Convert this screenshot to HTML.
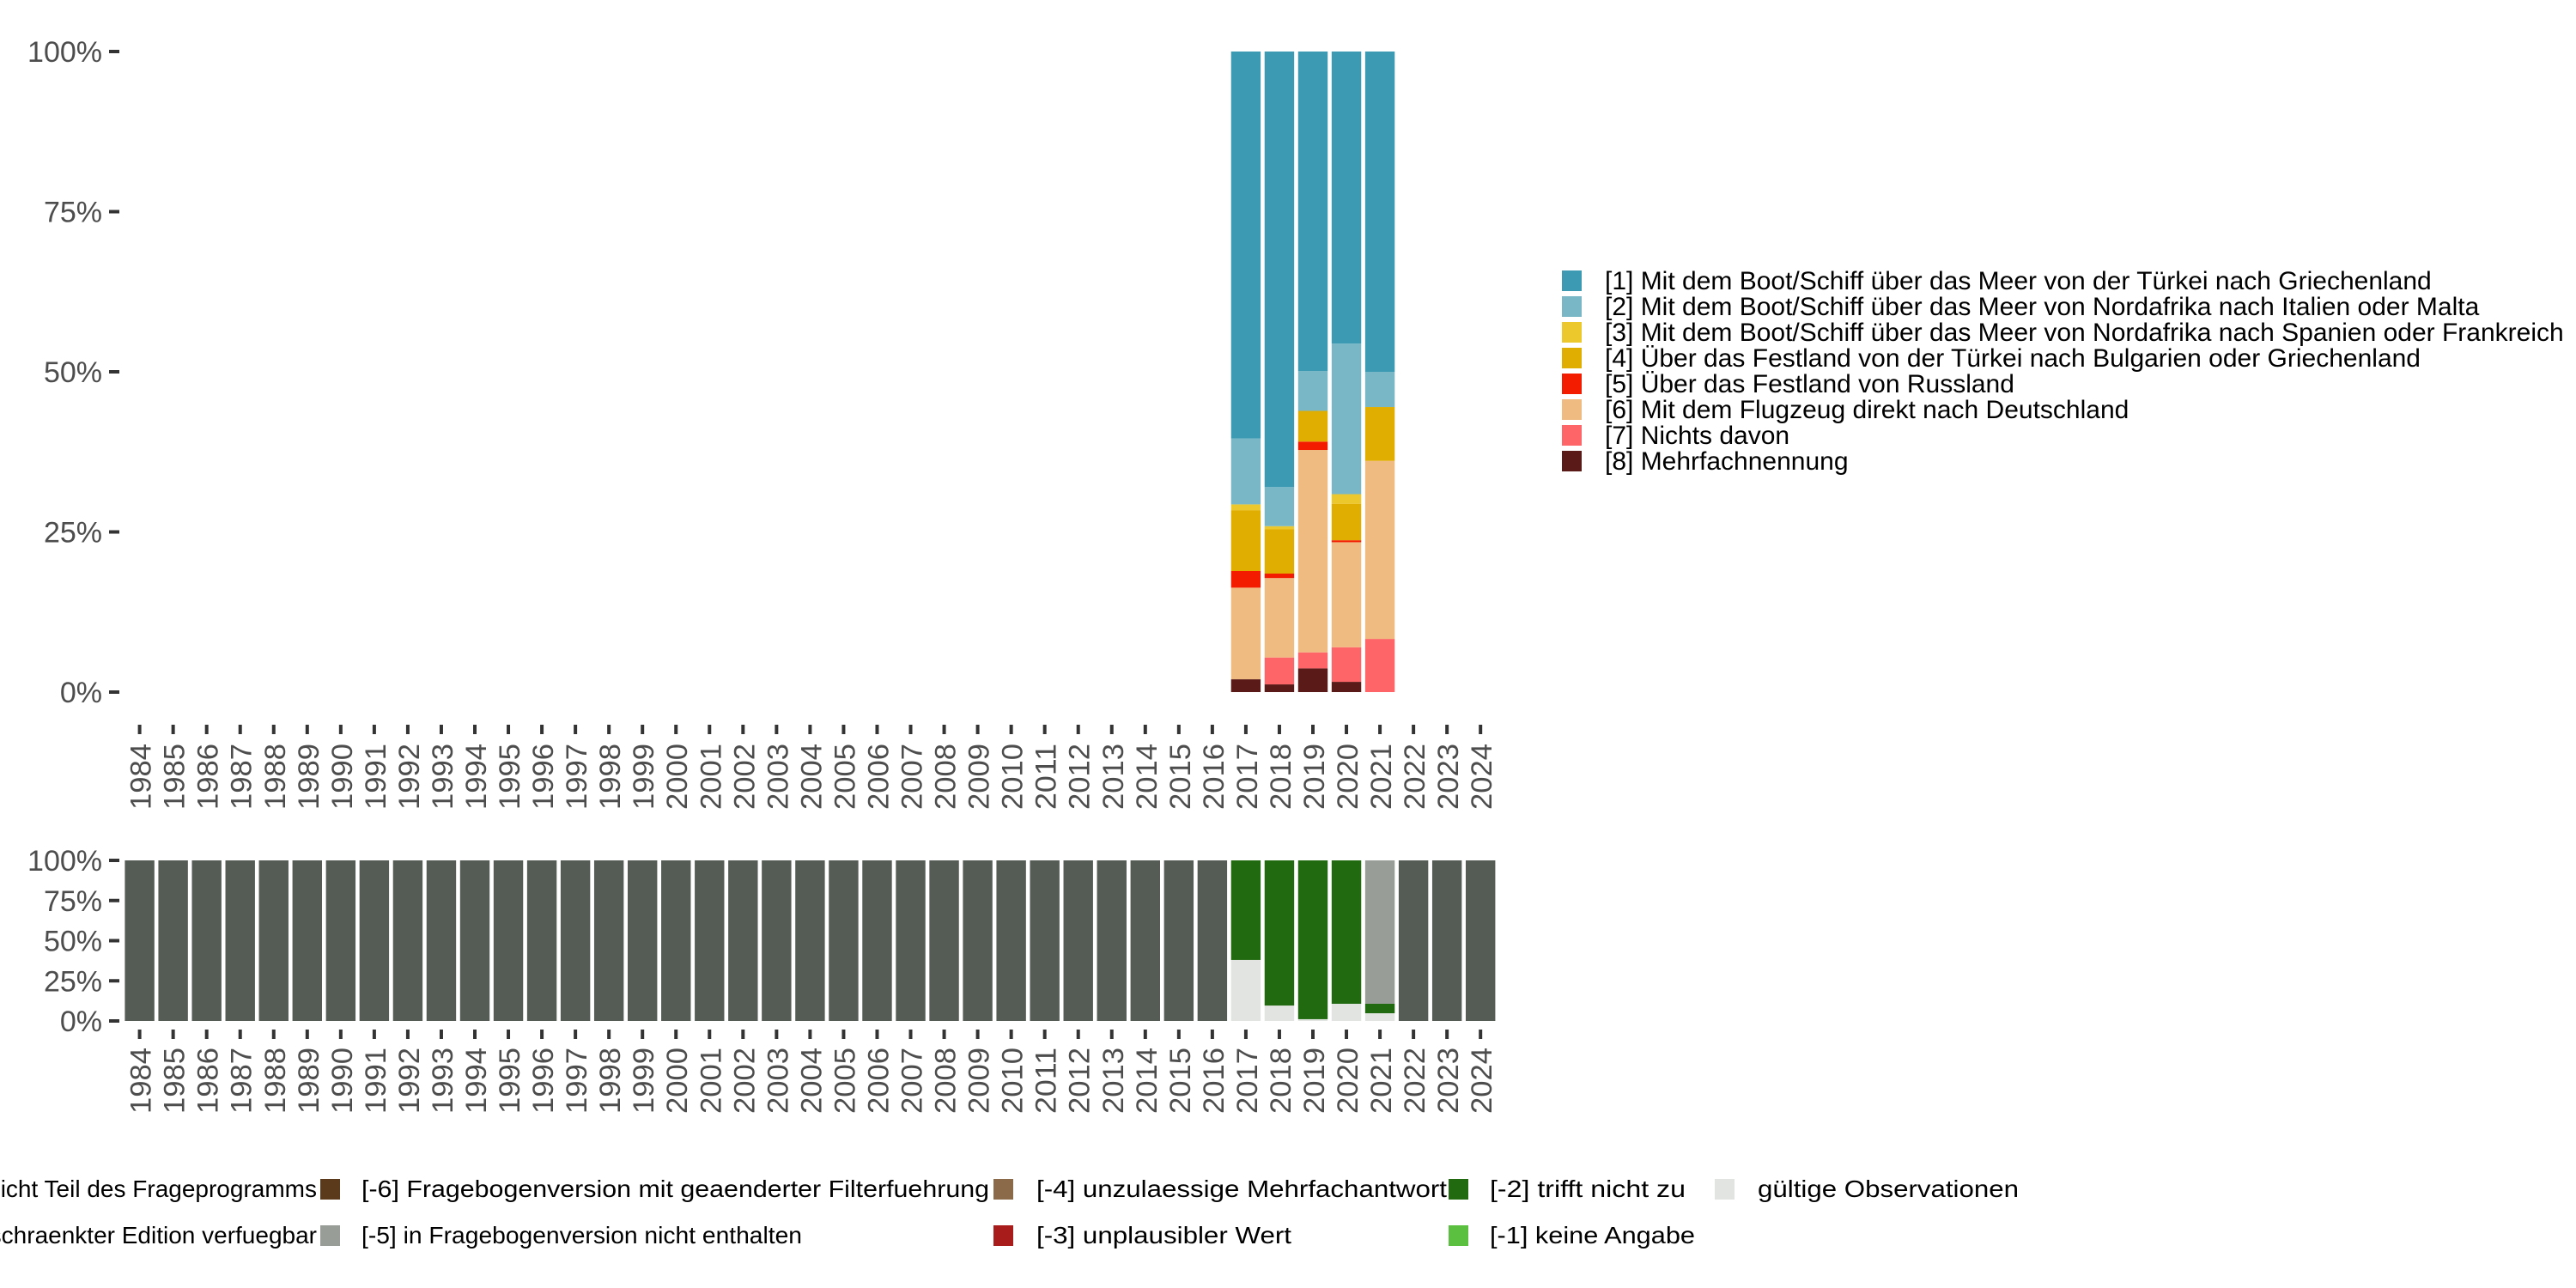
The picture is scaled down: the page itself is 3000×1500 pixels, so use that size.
<!DOCTYPE html>
<html><head><meta charset="utf-8"><style>
html,body{margin:0;padding:0;background:#fff;}
svg{display:block;font-family:"Liberation Sans","DejaVu Sans",sans-serif;}
</style></head><body>
<svg id="chart" width="3000" height="1500" viewBox="0 0 3000 1500" xmlns="http://www.w3.org/2000/svg">
<g id="topPanel"></g>
<g id="botPanel"></g>
<g id="leg"></g>
<g id="leg2"></g>
</svg>
<script>
const years = [];
for (let y = 1984; y <= 2024; y++) years.push(y);
const topYears = [2017, 2018, 2019, 2020, 2021];
// shares (%) per category, bottom to top order [8],[7],[6],[5],[4],[3],[2],[1]
const s8 = [2.0, 1.2, 3.7, 1.6, 0.0];
const s7 = [0.0, 4.2, 2.5, 5.4, 8.3];
const s6 = [14.3, 12.4, 31.6, 16.4, 27.8];
const s5 = [2.6, 0.7, 1.3, 0.3, 0.0];
const s4 = [9.5, 6.9, 4.8, 5.7, 8.4];
const s3 = [0.9, 0.5, 0.0, 1.5, 0.0];
const s2 = [10.3, 6.1, 6.2, 23.5, 5.5];
const s1 = [60.4, 68.0, 49.9, 45.6, 50.0];
const topSeries = [s8, s7, s6, s5, s4, s3, s2, s1];
const topColors = ["#5a1a18", "#fe6569", "#f0bb80", "#f41c00", "#e0ae00", "#edc82c", "#79b7c7", "#3d9ab3"];
const topLabels = [
 "[1] Mit dem Boot/Schiff über das Meer von der Türkei nach Griechenland",
 "[2] Mit dem Boot/Schiff über das Meer von Nordafrika nach Italien oder Malta",
 "[3] Mit dem Boot/Schiff über das Meer von Nordafrika nach Spanien oder Frankreich",
 "[4] Über das Festland von der Türkei nach Bulgarien oder Griechenland",
 "[5] Über das Festland von Russland",
 "[6] Mit dem Flugzeug direkt nach Deutschland",
 "[7] Nichts davon",
 "[8] Mehrfachnennung"];
const legColors = ["#3d9ab3", "#79b7c7", "#edc82c", "#e0ae00", "#f41c00", "#f0bb80", "#fe6569", "#5a1a18"];
const botValid = {2017: 38, 2018: 9.6, 2019: 1.1, 2020: 10.7, 2021: 4.8};
const botNotApply = {2017: 62, 2018: 90.4, 2019: 98.9, 2020: 89.3, 2021: 5.9};
const botNotIncluded = {2021: 89.3};
const yTicks = [0, 25, 50, 75, 100];
const yTickLabels = ["0%", "25%", "50%", "75%", "100%"];

const NS = "http://www.w3.org/2000/svg";
function mk(tag, attrs, parent) {
  const e = document.createElementNS(NS, tag);
  for (const k in attrs) e.setAttribute(k, attrs[k]);
  parent.appendChild(e);
  return e;
}
const pitch = 39.04, x0 = 162.6, bw = 34.4;
function xc(year) { return x0 + (year - 1984) * pitch; }
function yTopScale(v) { return 806 - v / 100 * 746; }
function yBotScale(v) { return 1189 - v / 100 * 187; }

const topG = document.getElementById("topPanel");
const botG = document.getElementById("botPanel");

function axes(g, yf, tickY, labY) {
  yTicks.forEach((t, i) => {
    const y = yf(t);
    const tk = mk("line", {x1: 127, x2: 139, y1: y, y2: y, stroke: "#333", "stroke-width": 4}, g);
    
    
    const tx = mk("text", {x: 119, y: y + 12, "text-anchor": "end", "font-size": 34, fill: "#4d4d4d"}, g);
    tx.textContent = yTickLabels[i];
    
    
  });
  years.forEach(yr => {
    const x = xc(yr);
    const tk = mk("line", {x1: x, x2: x, y1: tickY, y2: tickY + 11, stroke: "#333", "stroke-width": 4}, g);
    
    
    const tx = mk("text", {x: 0, y: 0, "text-anchor": "end", "font-size": 34, fill: "#4d4d4d",
      transform: `translate(${x + 13},${labY}) rotate(-90)`, textLength: 77, lengthAdjust: "spacingAndGlyphs"}, g);
    tx.textContent = yr;
    
    
  });
}
axes(topG, yTopScale, 844, 866);
axes(botG, yBotScale, 1199, 1220);

topYears.forEach((yr, j) => {
  let cum = 0;
  topSeries.forEach((ser, k) => {
    const v = ser[j];
    if (v > 0) {
      const r = mk("rect", {x: xc(yr) - bw / 2, y: yTopScale(cum + v), width: bw, height: yTopScale(cum) - yTopScale(cum + v), fill: topColors[k]}, topG);
      
      
    }
    cum += v;
  });
});

years.forEach(yr => {
  let segs;
  if (botValid[yr] !== undefined) {
    segs = [[botValid[yr], "#e1e4e0"], [botNotApply[yr] || 0, "#216a10"], [botNotIncluded[yr] || 0, "#999d97"]];
  } else segs = [[100, "#555b55"]];
  let cum = 0;
  segs.forEach(([v, c]) => {
    if (v > 0) {
      const r = mk("rect", {x: xc(yr) - bw / 2, y: yBotScale(cum + v), width: bw, height: yBotScale(cum) - yBotScale(cum + v), fill: c}, botG);
      
      
    }
    cum += v;
  });
});

const leg = document.getElementById("leg");
topLabels.forEach((lab, i) => {
  const y = 327 + i * 30;
  const sw = mk("rect", {x: 1819, y: y - 12, width: 23, height: 24, fill: legColors[i]}, leg);
  
  
  const t = mk("text", {x: 1869, y: y + 10, "font-size": 30, fill: "#000"}, leg);
  t.textContent = lab;
  
  
});

const leg2 = document.getElementById("leg2");
const bl = [
 [null, 369, 1385, "[-8] Frage in diesem Jahr nicht Teil des Frageprogramms", null, "#555b55"],
 [null, 369, 1439, "[-7] Nur in weniger eingeschraenkter Edition verfuegbar", null, "#555b55"],
 [373, 421, 1385, "[-6] Fragebogenversion mit geaenderter Filterfuehrung", 731, "#5a3a1a"],
 [373, 421, 1439, "[-5] in Fragebogenversion nicht enthalten", 513, "#999d97"],
 [1157, 1207, 1385, "[-4] unzulaessige Mehrfachantwort", 478, "#8b6a4a"],
 [1157, 1207, 1439, "[-3] unplausibler Wert", 297, "#a81c1c"],
 [1687, 1735, 1385, "[-2] trifft nicht zu", 228, "#216a10"],
 [1687, 1735, 1439, "[-1] keine Angabe", 239, "#5bbf3f"],
 [1997, 2047, 1385, "gültige Observationen", 304, "#e1e4e0"]];
bl.forEach(([sx, tx, y, lab, w, c]) => {
  if (sx !== null) {
    const sw = mk("rect", {x: sx, y: y - 12, width: 23, height: 24, fill: c}, leg2);
    
    
  }
  const attrs = {x: tx, y: y + 9, "font-size": 28, fill: "#000"};
  if (w) { attrs.textLength = w; attrs.lengthAdjust = "spacingAndGlyphs"; }
  else { attrs["text-anchor"] = "end"; }
  const t = mk("text", attrs, leg2);
  t.textContent = lab;
  
  
});
</script>
</body></html>
